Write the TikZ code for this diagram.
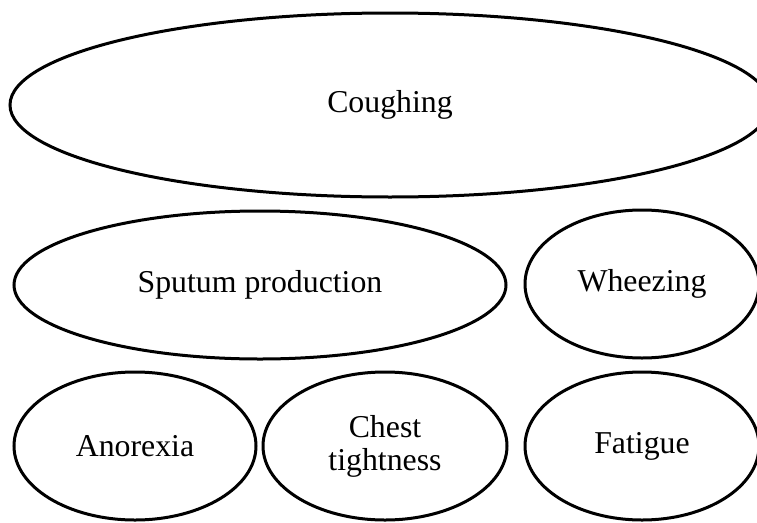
\documentclass[tikz,border=0pt]{standalone}
\usepackage{fontspec}
\setmainfont{Liberation Serif}
\usetikzlibrary{shapes.geometric}
\begin{document}
\begin{tikzpicture}[x=1pt,y=-1pt,
  oval/.style={draw=black, line width=3pt, ellipse, inner sep=0pt, align=center,
    font=\fontsize{31.8}{33}\selectfont}]
\useasboundingbox (0,0) rectangle (757,522);
\node[oval, minimum width=760, minimum height=184] (cough) at (390,105) {Coughing};
\node[oval, minimum width=492, minimum height=148] (sputum) at (260,285) {Sputum production};
\node[oval, minimum width=234, minimum height=148] (wheeze) at (642,284) {Wheezing};
\node[oval, minimum width=242, minimum height=148] (anorexia) at (135,446) {Anorexia};
\node[oval, minimum width=244, minimum height=148] (chest) at (385,446) {Chest\\tightness};
\node[oval, minimum width=234, minimum height=148] (fatigue) at (642,446) {Fatigue};
\end{tikzpicture}
\end{document}
